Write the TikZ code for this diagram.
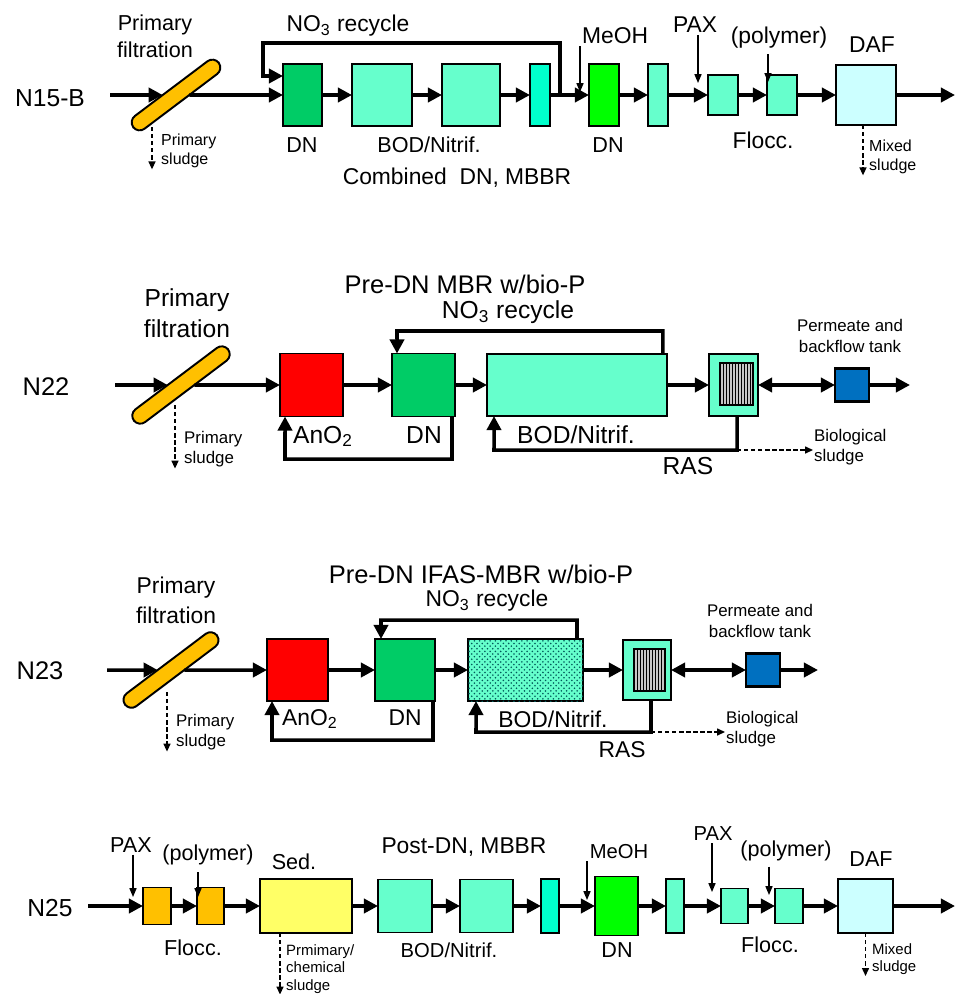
\documentclass[tikz,border=0pt]{standalone}
\usepackage{fontspec}
\setmainfont{Liberation Sans}
\usetikzlibrary{arrows.meta,patterns}

\definecolor{vertdn}{HTML}{00CC66}
\definecolor{vertbod}{HTML}{66FFCC}
\definecolor{turq}{HTML}{00FFCC}
\definecolor{vertvif}{HTML}{00FF00}
\definecolor{bleudaf}{HTML}{CCFFFF}
\definecolor{jaunefiltre}{HTML}{FFC000}
\definecolor{jaunesed}{HTML}{FFFF66}
\definecolor{bleutank}{HTML}{0070C0}

\newcommand{\pxu}{0.2mm}
\newcommand{\tsize}[2]{\fontsize{#1}{#2}\selectfont}

\begin{document}
\begin{tikzpicture}[x = 0.02cm, y = -0.02cm,%une unité = un pixel
	flux/.style = {line width = 2pt, -{Triangle[length=8pt,width=8pt]}},
	flux2/.style = {line width = 2pt, {Triangle[length=8pt,width=8pt]}-{Triangle[length=8pt,width=8pt]}},
	dose/.style = {line width = 0.7pt, -{Triangle[length=5pt,width=4pt]}},
	boue/.style = {line width = 0.7pt, dash pattern = on 2.5pt off 1.5pt, -{Triangle[length=4.5pt,width=4pt]}},
	bassin/.style = {draw, line width = 1.1pt, inner sep = 0pt, outer sep = 0pt},
	taille/.style 2 args = {minimum width = #1*\pxu, minimum height = #2*\pxu},
	filtre/.style = {draw, line width = 1.1pt, fill = jaunefiltre, rounded corners = 1.6mm, minimum height = 16*\pxu, inner sep = 0pt, outer sep = 0pt, rotate = 37},
	rA/.style = {inner sep = 1pt, align = center, font = \tsize{14.5}{17}},
	lA/.style = {inner sep = 1pt, align = center, font = \tsize{14}{17.5}},
	lB/.style = {inner sep = 1pt, align = center, font = \tsize{13}{17}},
	lC/.style = {inner sep = 1pt, align = center, font = \tsize{12.3}{15.3}},
	lD/.style = {inner sep = 1pt, align = center, font = \tsize{11.5}{14}},
	nA/.style = {inner sep = 0.5pt, align = left, font = \tsize{9.6}{11.6}},
	nB/.style = {inner sep = 0.5pt, align = left, font = \tsize{9.1}{10.8}},
	nC/.style = {inner sep = 0.5pt, align = left, font = \tsize{8.5}{10}}]
	
	\useasboundingbox (0,0) rectangle (971,994);
	
	% N15-B
	\node[lA] (nomA) at (50,98) {N15-B};
	\coordinate (inA) at (110,95);
	\node[filtre, minimum width = 107*\pxu] (filtA) at (176,95) {};
	\node[bassin, fill = vertdn, taille = {39}{62}] (bdnA) at (302.5,95) {};
	\node[bassin, fill = vertbod, taille = {60}{62}] (bbodA1) at (382,95) {};
	\node[bassin, fill = vertbod, taille = {58}{62}] (bbodA2) at (471,95) {};
	\node[bassin, fill = turq, taille = {20}{62}] (bturqA) at (540,95) {};
	\node[bassin, fill = vertvif, taille = {30}{62}] (bdnvA) at (604,95) {};
	\node[bassin, fill = vertbod, taille = {20}{62}] (bpostA) at (658,95) {};
	\node[bassin, fill = vertbod, taille = {30}{40}] (bflocA1) at (723,95) {};
	\node[bassin, fill = vertbod, taille = {30}{40}] (bflocA2) at (782,95) {};
	\node[bassin, fill = bleudaf, taille = {60}{60}] (bdafA) at (866,95) {};
	\coordinate (outA) at (955,95);
	
	\draw[flux] (inA) -- (filtA);
	\draw[flux] (filtA) -- (bdnA);
	\foreach \a/\b in {bdnA/bbodA1, bbodA1/bbodA2, bbodA2/bturqA, bturqA/bdnvA, bdnvA/bpostA, bpostA/bflocA1, bflocA1/bflocA2, bflocA2/bdafA} {
		\draw[flux] (\a) -- (\b);}
	\draw[flux] (bdafA) -- (outA);
	
	\coordinate (rcA) at (560,95);
	\coordinate (rctA) at (263,43);
	\draw[flux] (rcA) |- (rctA) |- ([yshift = 19*\pxu]bdnA.west);
	
	\node[lC] (pfA) at (155,36) {Primary\\filtration};
	\node[nB, anchor = north west] (psA) at (160,133) {Primary\\sludge};
	\coordinate (psA0) at (152,127);
	\draw[boue] (psA0) -- (psA0 |- psA.south);
	\node[lB] (no3A) at (348,26) {NO\textsubscript{3} recycle};
	\node[lC] (dnlA) at (302,145) {DN};
	\node[lC] (bodlA) at (429,145) {BOD/Nitrif.};
	\node[lB] (combA) at (457,178) {Combined~~DN, MBBR};
	\node[lB, anchor = south west] (meohA) at (580,46) {MeOH};
	\coordinate (mA) at (580,92);
	\draw[dose] (meohA.south west) -- (mA);
	\node[lC] (dnl2A) at (608,145) {DN};
	\node[lB] (paxA) at (695,25) {PAX};
	\coordinate (pA) at (698,83);
	\draw[dose] (paxA.south -| pA) -- (pA);
	\node[lB] (polA) at (779,38) {(polymer)};
	\coordinate (qA) at (768,82);
	\draw[dose, shorten < = 2pt] (polA.south -| qA) -- (qA);
	\node[lB] (floA) at (763,140) {Flocc.};
	\node[lB] (dafA) at (872,45) {DAF};
	\node[nB, anchor = north west] (msA) at (868,139) {Mixed\\sludge};
	\draw[boue] ([xshift = -3*\pxu]bdafA.south) -- ([xshift = -3*\pxu]bdafA.south |- msA.south);
	
	% N22
	\node[rA] (nomB) at (46,387) {N22};
	\coordinate (inB) at (115,385);
	\node[filtre, minimum width = 118*\pxu] (filtB) at (181,385) {};
	\node[bassin, fill = red, taille = {63}{63}] (banB) at (311.5,385) {};
	\node[bassin, fill = vertdn, taille = {63}{63}] (bdnB) at (423.5,385) {};
	\node[bassin, fill = vertbod, taille = {180}{62}] (bbodB) at (577,385) {};
	\node[bassin, fill = vertbod, taille = {49}{62}] (bmbrB) at (733.5,385) {};
	\node[bassin, fill = gray!45, line width = 0.8pt, taille = {33}{42}] (memB) at (736.5,384) {};
	\foreach \i in {1,...,10} {
		\draw[line width = 0.5pt] ([xshift = \i*3*\pxu]memB.north west) -- ([xshift = \i*3*\pxu]memB.south west);}
	\node[bassin, fill = bleutank, line width = 1.5pt, taille = {34}{33}] (btkB) at (852,385) {};
	\coordinate (outB) at (910,385);
	
	\draw[flux] (inB) -- (filtB);
	\draw[flux] (filtB) -- (banB);
	\draw[flux] (banB) -- (bdnB);
	\draw[flux] (bdnB) -- (bbodB);
	\draw[flux] (bbodB) -- (bmbrB);
	\draw[flux2] (bmbrB) -- (btkB);
	\draw[flux] (btkB) -- (outB);
	
	\coordinate (rctB) at (397,331);
	\draw[flux] ([xshift = -4*\pxu]bbodB.north east) |- (rctB) -- ([xshift = 5*\pxu]bdnB.north west);
	\coordinate (rcbB) at (285,459);
	\draw[flux] ([xshift = -3*\pxu]bdnB.south east) |- (rcbB) -- ([xshift = 5*\pxu]banB.south west);
	\coordinate (rasB0) at (494,450);
	\draw[flux] ([xshift = 3.5*\pxu]bmbrB.south) |- (rasB0) -- ([xshift = 7*\pxu]bbodB.south west);
	
	\node[lA] (pfB) at (187,313) {Primary\\filtration};
	\node[nA, anchor = north west] (psB) at (183,430) {Primary\\sludge};
	\coordinate (psB0) at (175,405);
	\draw[boue] (psB0) -- (psB0 |- psB.south);
	\node[rA] (titB) at (465,284) {Pre-DN MBR w/bio-P};
	\node[lA] (no3B) at (508,312) {NO\textsubscript{3} recycle};
	\node[lA, anchor = base west] (anlB) at (291,443) {AnO\textsubscript{2}};
	\node[lA, anchor = base] (dnlB) at (424,443) {DN};
	\node[lA, anchor = base] (bodlB) at (576,443) {BOD/Nitrif.};
	\node[lA, anchor = base] (rasB) at (688,474) {RAS};
	\node[nA, anchor = north west] (bioB) at (813,428) {Biological\\sludge};
	\draw[boue] ([xshift = 3.5*\pxu]bmbrB.south |- rasB0) -- (bioB.west |- rasB0);
	\node[nA, align = center] (permB) at (850,336) {Permeate and\\backflow tank};
	
	% N23
	\node[rA] (nomC) at (40,671) {N23};
	\coordinate (inC) at (107,670);
	\node[filtre, minimum width = 115*\pxu] (filtC) at (171,670) {};
	\node[bassin, fill = red, taille = {61}{62}] (banC) at (297.5,670) {};
	\node[bassin, fill = vertdn, taille = {60}{62}] (bdnC) at (405,670) {};
	\node[bassin, fill = vertbod, taille = {115}{62}, postaction = {pattern = crosshatch dots, pattern color = teal!70!black}] (bbodC) at (525.5,670) {};
	\node[bassin, fill = vertbod, taille = {48}{60}] (bmbrC) at (647,670) {};
	\node[bassin, fill = gray!45, line width = 0.8pt, taille = {31}{42}] (memC) at (649.5,670) {};
	\foreach \i in {1,...,9} {
		\draw[line width = 0.5pt] ([xshift = \i*3.1*\pxu]memC.north west) -- ([xshift = \i*3.1*\pxu]memC.south west);}
	\node[bassin, fill = bleutank, line width = 1.5pt, taille = {34}{33}] (btkC) at (763,670) {};
	\coordinate (outC) at (818,670);
	
	\draw[flux] (inC) -- (filtC);
	\draw[flux] (filtC) -- (banC);
	\draw[flux] (banC) -- (bdnC);
	\draw[flux] (bdnC) -- (bbodC);
	\draw[flux] (bbodC) -- (bmbrC);
	\draw[flux2] (bmbrC) -- (btkC);
	\draw[flux] (btkC) -- (outC);
	
	\coordinate (rctC) at (381,620);
	\draw[flux] ([xshift = -6*\pxu]bbodC.north east) |- (rctC) -- ([xshift = 6*\pxu]bdnC.north west);
	\coordinate (rcbC) at (272,740);
	\draw[flux] ([xshift = -2*\pxu]bdnC.south east) |- (rcbC) -- ([xshift = 5*\pxu]banC.south west);
	\coordinate (rasC0) at (476,732);
	\draw[flux] ([xshift = 4*\pxu]bmbrC.south) |- (rasC0) -- ([xshift = 8*\pxu]bbodC.south west);
	
	\node[lB] (pfC) at (176,600) {Primary\\filtration};
	\node[nA, anchor = north west] (psC) at (175,713) {Primary\\sludge};
	\coordinate (psC0) at (167,692);
	\draw[boue] (psC0) -- (psC0 |- psC.south);
	\node[rA] (titC) at (481,574) {Pre-DN IFAS-MBR w/bio-P};
	\node[lB] (no3C) at (487,601) {NO\textsubscript{3} recycle};
	\node[lB, anchor = base west] (anlC) at (280,725) {AnO\textsubscript{2}};
	\node[lB, anchor = base] (dnlC) at (405,725) {DN};
	\node[lB, anchor = base] (bodlC) at (553,727) {BOD/Nitrif.};
	\node[lB, anchor = base] (rasC) at (622,757) {RAS};
	\node[nA, anchor = north west] (bioC) at (725,710) {Biological\\sludge};
	\draw[boue] ([xshift = 4*\pxu]bmbrC.south |- rasC0) -- (bioC.west |- rasC0);
	\node[nA, align = center] (permC) at (760,621) {Permeate and\\backflow tank};
	
	% N25
	\node[lA] (nomD) at (50,908) {N25};
	\coordinate (inD) at (88,906);
	\node[bassin, fill = jaunefiltre, taille = {28}{37}] (bflocD1) at (157,906) {};
	\node[bassin, fill = jaunefiltre, taille = {27}{37}] (bflocD2) at (210.5,906) {};
	\node[bassin, fill = jaunesed, taille = {92}{54}] (bsedD) at (306,906) {};
	\node[bassin, fill = vertbod, taille = {54}{53}] (bbodD1) at (405,906) {};
	\node[bassin, fill = vertbod, taille = {53}{53}] (bbodD2) at (486.5,906) {};
	\node[bassin, fill = turq, taille = {18}{54}] (bturqD) at (550,906) {};
	\node[bassin, fill = vertvif, taille = {43}{59}] (bdnvD) at (616.5,906) {};
	\node[bassin, fill = vertbod, taille = {18}{54}] (bpostD) at (675,906) {};
	\node[bassin, fill = vertbod, taille = {27}{35}] (bflocD3) at (734.5,906) {};
	\node[bassin, fill = vertbod, taille = {28}{35}] (bflocD4) at (789,906) {};
	\node[bassin, fill = bleudaf, taille = {55}{54}] (bdafD) at (865.5,906) {};
	\coordinate (outD) at (955,906);
	
	\draw[flux] (inD) -- (bflocD1);
	\foreach \a/\b in {bflocD1/bflocD2, bflocD2/bsedD, bsedD/bbodD1, bbodD1/bbodD2, bbodD2/bturqD, bturqD/bdnvD, bdnvD/bpostD, bpostD/bflocD3, bflocD3/bflocD4, bflocD4/bdafD} {
		\draw[flux] (\a) -- (\b);}
	\draw[flux] (bdafD) -- (outD);
	
	\node[lC] (paxD1) at (131,845) {PAX};
	\coordinate (pD1) at (133,897);
	\draw[dose] (paxD1.south -| pD1) -- (pD1);
	\node[lC] (polD1) at (208,855) {(polymer)};
	\coordinate (qD1) at (198,897);
	\draw[dose, shorten < = 3pt] (polD1.south -| qD1) -- (qD1);
	\node[lC] (floD1) at (193,948) {Flocc.};
	\node[lC] (sedl) at (294,862) {Sed.};
	\node[nC, anchor = north west] (pcsD) at (285,943) {Prmimary/\\chemical\\sludge};
	\draw[boue] ([xshift = 20*\pxu]bsedD.south west) -- ([xshift = 20*\pxu]bsedD.south west |- pcsD.south);
	\node[lB] (postD) at (464,847) {Post-DN, MBBR};
	\node[lD] (bodlD) at (449,950) {BOD/Nitrif.};
	\node[lD] (meohD) at (619,852) {MeOH};
	\coordinate (mD) at (587,900);
	\draw[dose] (meohD.south -| mD) -- (mD);
	\node[lC] (dnlD) at (617,950) {DN};
	\node[lD] (paxD2) at (713,834) {PAX};
	\coordinate (pD2) at (712,892);
	\draw[dose] (paxD2.south -| pD2) -- (pD2);
	\node[lC] (polD2) at (786,851) {(polymer)};
	\coordinate (qD2) at (769,895);
	\draw[dose, shorten < = 2pt] (polD2.south -| qD2) -- (qD2);
	\node[lC] (floD2) at (770,945) {Flocc.};
	\node[lC] (dafD) at (871,859) {DAF};
	\node[nC, anchor = north west] (msD) at (871,942) {Mixed\\sludge};
	\draw[boue] (bdafD.south) -- (bdafD.south |- msD.south);
\end{tikzpicture}
\end{document}
